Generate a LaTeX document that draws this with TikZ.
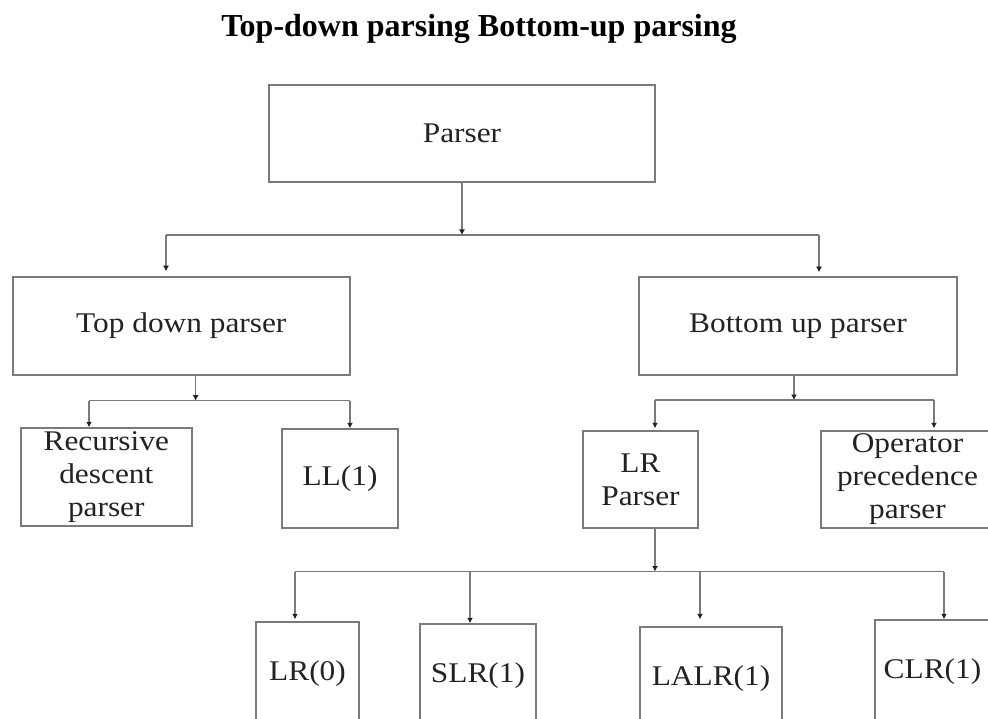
\documentclass[tikz,border=0pt]{standalone}
\usepackage{fontspec}
\setmainfont{Liberation Serif}[FakeStretch=1.1]
\newfontfamily\titlefont{Liberation Serif}
\usetikzlibrary{arrows.meta}
\definecolor{linegray}{HTML}{7A7A7A}
\definecolor{inkdark}{HTML}{222222}
\begin{document}
\begin{tikzpicture}[x=1pt,y=-1pt,
  box/.style={draw=linegray, line width=1.5pt, rectangle, inner sep=0pt,
    align=center, text=inkdark, font=\fontsize{28.5}{33}\selectfont},
  link/.style={draw=linegray, line width=1.3pt},
  arr/.style={link, -{Latex[length=5.5pt,width=6pt,color=inkdark]}},
]
\useasboundingbox (0,0) rectangle (988,719);
\clip (0,0) rectangle (988,719);

% heading
\node[font=\titlefont\bfseries\fontsize{32}{38}\selectfont, text=black, anchor=base]
  (title) at (479,37) {Top-down parsing Bottom-up parsing};

% parser classes
\node[box, minimum width=386pt, minimum height=97pt] (parser)    at (462,133.5) {Parser};
\node[box, minimum width=337pt, minimum height=98pt] (topdown)   at (181.3,326) {Top down parser};
\node[box, minimum width=318pt, minimum height=98pt] (bottomup)  at (798,326)   {Bottom up parser};
\node[box, minimum width=171pt, minimum height=98pt] (recursive) at (106.3,477) {Recursive\\descent\\parser};
\node[box, minimum width=116pt, minimum height=99pt] (ll1)       at (340,478.5) {LL(1)};
\node[box, minimum width=115pt, minimum height=97pt] (lrparser)  at (640.5,479.5) {LR\\Parser};
\node[box, minimum width=173pt, minimum height=97pt] (operator)  at (907.5,479.5) {Operator\\precedence\\parser};
\node[box, minimum width=103pt, minimum height=104pt] (lr0)      at (307.5,674) {LR(0)};
\node[box, minimum width=116pt, minimum height=104pt] (slr1)     at (478,676)   {SLR(1)};
\node[box, minimum width=142pt, minimum height=104pt] (lalr1)    at (711,679)   {LALR(1)};
\node[box, minimum width=115pt, minimum height=104pt] (clr1)     at (932.5,672) {CLR(1)};

% Parser -> top down / bottom up
\coordinate (busA)  at (462,235);
\coordinate (busAl) at (166,235);
\coordinate (busAr) at (819,235);
\draw[arr] (parser.south -| busA) -- (busA);
\draw[link] (busAl) -- (busAr);
\draw[arr, shorten >=5pt] (busAl) -- (busAl |- topdown.north);
\draw[arr, shorten >=4pt] (busAr) -- (busAr |- bottomup.north);

% Top down parser -> recursive descent / LL(1)
\coordinate (busB)  at (195.7,400.7);
\coordinate (busBl) at (89,400.7);
\coordinate (busBr) at (350,400.7);
\draw[arr] (topdown.south -| busB) -- (busB);
\draw[link] (busBl) -- (busBr);
\draw[arr] (busBl) -- (busBl |- recursive.north);
\draw[arr] (busBr) -- (busBr |- ll1.north);

% Bottom up parser -> LR / operator precedence
\coordinate (busC)  at (794,400);
\coordinate (busCl) at (655,400);
\coordinate (busCr) at (934,400);
\draw[arr] (bottomup.south -| busC) -- (busC);
\draw[link] (busCl) -- (busCr);
\draw[arr, shorten >=2pt] (busCl) -- (busCl |- lrparser.north);
\draw[arr, shorten >=2pt] (busCr) -- (busCr |- operator.north);

% LR parser -> LR(0) / SLR(1) / LALR(1) / CLR(1)
\coordinate (busD)  at (655,571.5);
\coordinate (busDl) at (295,571.5);
\coordinate (busDr) at (944,571.5);
\coordinate (busDs) at (470,571.5);
\coordinate (busDa) at (700,571.5);
\draw[arr] (lrparser.south -| busD) -- (busD);
\draw[link] (busDl) -- (busDr);
\draw[arr, shorten >=2pt] (busDl) -- (busDl |- lr0.north);
\draw[arr] (busDs) -- (busDs |- slr1.north);
\draw[arr, shorten >=7pt] (busDa) -- (busDa |- lalr1.north);
\draw[arr] (busDr) -- (busDr |- clr1.north);
\end{tikzpicture}
\end{document}
